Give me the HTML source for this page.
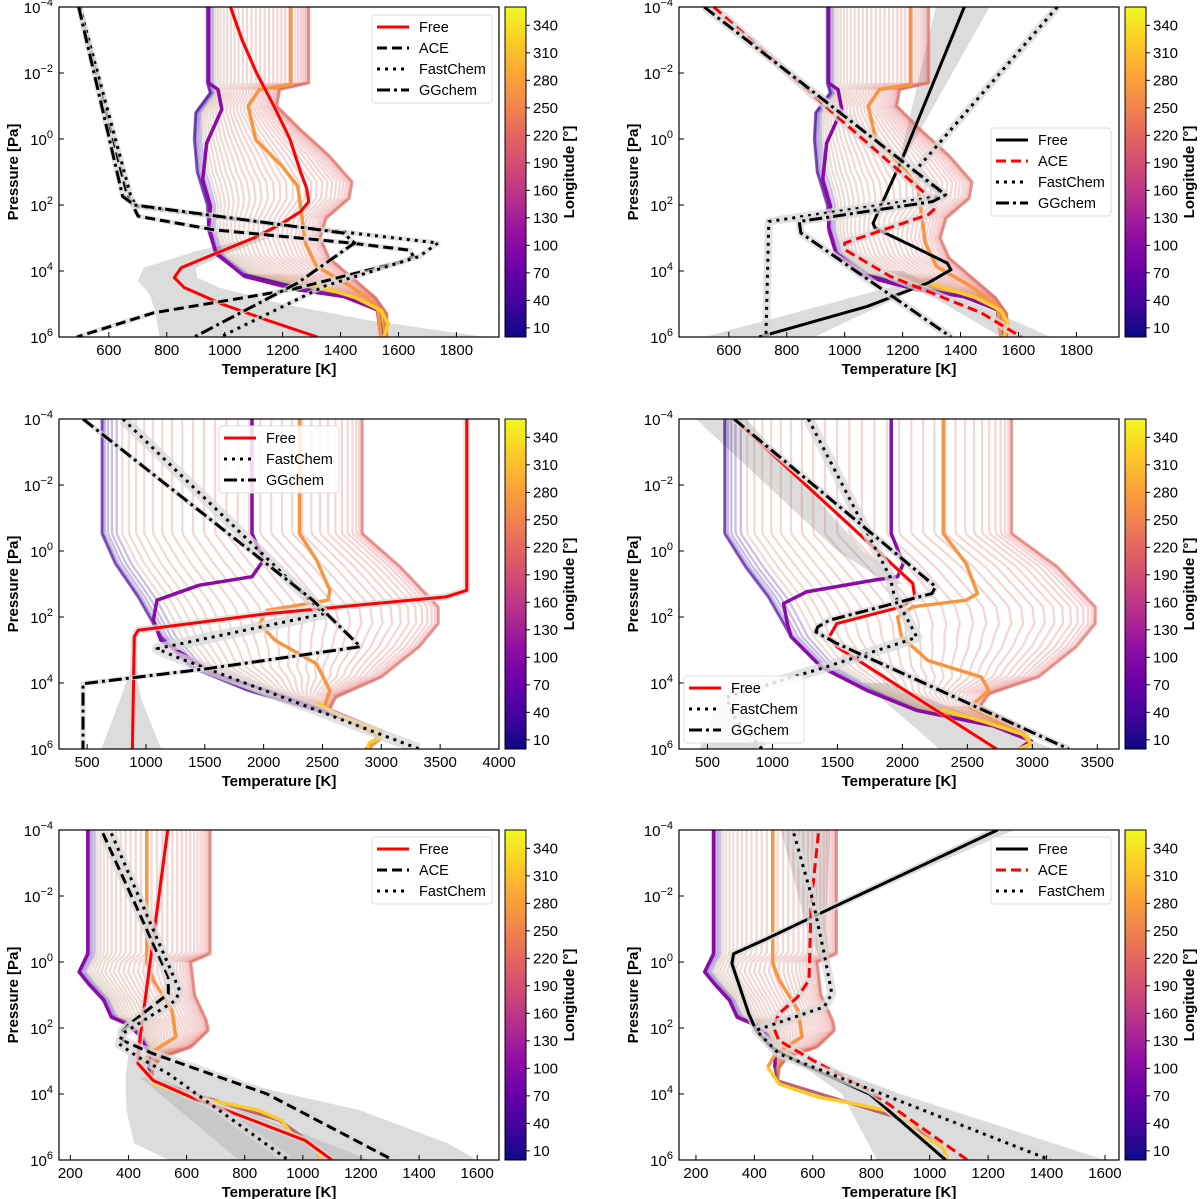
<!DOCTYPE html>
<html><head><meta charset="utf-8">
<style>
body{margin:0;background:#fff;}
svg{display:block;font-family:"Liberation Sans","DejaVu Sans",sans-serif;}
.tl{font-size:15px;fill:#000;}
.al{font-size:15px;font-weight:bold;fill:#000;}
.lg{font-size:14.5px;fill:#000;}
</style></head>
<body>
<svg id="fig" width="1200" height="1199" viewBox="0 0 1200 1199" xmlns="http://www.w3.org/2000/svg">
<defs>
<linearGradient id="plasma" x1="0" y1="1" x2="0" y2="0">
<stop offset="0" stop-color="#0d0887"/><stop offset="0.1" stop-color="#41049d"/><stop offset="0.2" stop-color="#6a00a8"/>
<stop offset="0.3" stop-color="#8f0da4"/><stop offset="0.4" stop-color="#b12a90"/><stop offset="0.5" stop-color="#cc4778"/>
<stop offset="0.6" stop-color="#e16462"/><stop offset="0.7" stop-color="#f2844b"/><stop offset="0.8" stop-color="#fca636"/>
<stop offset="0.9" stop-color="#fcce25"/><stop offset="1" stop-color="#f0f921"/>
</linearGradient>
</defs>
</svg>
<script>
// ===== data: profiles as [log10 P, T(K)] =====
const yTicks = [-4,-2,0,2,4,6];
const cbTicks = [10,40,70,100,130,160,190,220,250,280,310,340];
const xTicksA = [600,800,1000,1200,1400,1600,1800];
const xTicksB = [500,1000,1500,2000,2500,3000,3500,4000];
const xTicksC = [500,1000,1500,2000,2500,3000,3500];
const xTicksD = [200,400,600,800,1000,1200,1400,1600];

// panels 1 & 2 GCM profiles
const fanCoolA = [[-4,940],[-1.7,940],[-1.4,950],[-0.8,900],[0,895],[1,905],[2,940],[2.8,945],[3.5,970],[4.1,1060],[4.5,1250],[4.8,1420],[5.2,1530],[6,1545]];
const fanHotA = [[-4,1290],[-1.7,1290],[-1.5,1190],[-1,1180],[-0.3,1260],[0.5,1360],[1.3,1440],[1.8,1430],[2.4,1350],[3.0,1330],[3.6,1360],[4.2,1440],[4.8,1520],[5.3,1560],[6,1560]];
const purpleA = [[-4,944],[-1.7,944],[-1.5,977],[-0.9,990],[0.12,938],[1.23,924],[2.04,951],[2.65,944],[3.45,970],[4.16,1068],[4.57,1252],[4.77,1409],[5.17,1527],[6,1540]];
const orangeA = [[-4,1228],[-1.65,1228],[-1.5,1120],[-1.0,1081],[0.02,1107],[0.83,1199],[1.43,1252],[2.24,1265],[3.15,1278],[3.86,1317],[4.46,1435],[5.07,1527],[6,1540]];
const yellowA = [[4.4,1300],[4.8,1450],[5.2,1540],[5.6,1565],[6,1550]];
// panel 1 retrievals
const p1Free = [[-4,1020],[-3,1060],[-2,1110],[-1,1170],[0,1225],[1,1262],[1.5,1283],[1.9,1290],[2.2,1262],[2.6,1190],[3,1100],[3.5,960],[3.9,850],[4.2,826],[4.5,860],[5,990],[5.5,1150],[6,1320]];
const p1Ace = [[-4,498],[1.64,662],[2.34,701],[2.75,963],[3.15,1435],[3.37,1639],[3.56,1652],[3.7,1619],[4.57,1226],[5.27,754],[6,490]];
const p1Fast = [[-4,500],[1.7,675],[2.04,694],[2.55,1147],[3.15,1737],[3.56,1671],[4.46,1344],[6,985]];
const p1GG = [[-4,496],[1.74,648],[2.0,688],[2.85,1409],[3.15,1448],[4.36,1252],[6,895]];
const p1BandLo = [[3.0,1100],[3.4,900],[3.9,720],[4.3,700],[4.7,740],[5.2,760],[6,775]];
const p1BandHi = [[3.0,1150],[3.5,1000],[3.9,900],[4.2,905],[4.5,980],[5,1200],[5.5,1500],[6,1900]];
// panel 2 retrievals
const p2Free = [[-4,1413],[0.63,1197],[2.55,1098],[2.7,1105],[3.25,1236],[3.76,1354],[3.96,1367],[4.36,1288],[5.07,1079],[6,705]];
const p2Ace = [[-4,548],[-0.48,1000],[1.84,1302],[2.14,1308],[2.29,1289],[3.15,1000],[3.35,1000],[4.16,1157],[5.27,1472],[6,1610]];
const p2Fast = [[-4,1734],[1.0,1240],[1.72,1345],[2.5,738],[6,728]];
const p2GG = [[-4,515],[1.69,1348],[1.9,1302],[2.5,843],[2.85,849],[6,1367]];
const p2BandTopLo = [[-4,1315],[0.6,1190]];
const p2BandTopHi = [[-4,1500],[0.6,1205]];
const p2BandBotLo = [[4.2,1280],[6,515]];
const p2BandBotHi = [[4.2,1330],[6,895]];
const p2BandAceLo = [[4,1150],[6,1540]];
const p2BandAceHi = [[4,1200],[6,1710]];

// panel 3
const fanCoolB = [[-4,626],[-0.53,626],[0.38,739],[1.39,933],[2.6,1126],[3.52,1385],[4.23,1869],[4.83,2450],[5.44,2999],[5.7,2990],[6,2870]];
const fanHotB = [[-4,2838],[-0.53,2838],[0.48,3161],[1.69,3484],[2.2,3484],[2.9,3322],[3.82,2999],[4.43,2612],[4.8,2560],[5.44,2999],[6,2900]];
const purpleB = [[-4,1901],[-0.53,1901],[0.28,1998],[0.78,1901],[1.04,1449],[1.49,1094],[2.1,1062],[2.7,1126],[3.72,1578],[4.23,2030],[5.04,2676],[5.65,2999],[6,2870]];
const orangeB = [[-4,2305],[-0.53,2305],[0.28,2450],[1.19,2563],[1.49,2547],[1.8,2030],[2.2,1966],[2.7,2095],[3.42,2450],[4.23,2563],[4.73,2515],[5.04,2676],[5.65,2999],[6,2880]];
const yellowB = [[4.6,2450],[5.0,2650],[5.44,2990],[5.65,3000],[5.8,2900],[6,2880]];
const p3Free = [[-4,3726],[1.19,3726],[1.39,3548],[1.9,2030],[2.4,933],[2.6,901],[6,885]];
const p3Fast = [[-4,804],[1.9,2515],[2.96,1094],[3.21,1256],[6,3322]];
const p3GG = [[-4,465],[1.49,2418],[2.9,2822],[3.57,1514],[4.02,465],[6,465]];
const p3BandLo = [[2.6,890],[3.5,880],[4.5,780],[6,620]];
const p3BandHi = [[2.6,930],[3.5,900],[4.5,960],[6,1130]];

// panel 4
const fanCoolC = [[-4,632],[-0.53,632],[0.48,793],[1.39,968],[2.6,1144],[3.52,1378],[4.23,1729],[4.83,2110],[5.3,2700],[5.75,2988],[6,2900]];
const fanHotC = [[-4,2841],[-0.53,2841],[0.48,3193],[1.69,3485],[2.2,3485],[2.9,3339],[3.82,3046],[4.33,2666],[4.7,2600],[5.3,2900],[5.75,2988],[6,2900]];
const purpleC = [[-4,1914],[-0.53,1914],[0.38,2007],[0.78,1963],[0.88,1788],[1.24,1261],[1.59,1085],[2.2,1115],[2.6,1144],[3.52,1378],[4.23,1729],[4.83,2110],[5.3,2700],[5.75,2988],[6,2900]];
const orangeC = [[-4,2315],[-0.53,2315],[0.38,2490],[1.29,2578],[1.49,2490],[1.69,2080],[2.0,1963],[2.6,1993],[3.32,2197],[3.82,2607],[4.23,2666],[4.73,2519],[5.44,2900],[5.85,2988],[6,2900]];
const yellowC = [[4.8,2300],[5.2,2650],[5.6,2960],[5.85,2990],[6,2900]];
const p4Free = [[-4,705],[0.98,2080],[1.39,2095],[1.69,1992],[2.2,1495],[2.6,1437],[2.9,1495],[6,2724]];
const p4Fast = [[-4,1276],[0.78,1905],[1.29,1934],[2.6,2110],[2.7,2051],[3.52,1407],[4.43,646],[5.0,700],[6,920]];
const p4GG = [[-4,705],[1.08,2256],[1.29,2227],[2.1,1437],[2.3,1349],[2.45,1334],[2.8,1495],[6,3280]];
const p4BandTopLo = [[-4,412],[0,1500],[1,1900]];
const p4BandTopHi = [[-4,800],[0,1700],[1,2000]];
const p4BandBotLo = [[4,1700],[6,2285]];
const p4BandBotHi = [[4,1900],[6,3160]];
const p4BandLeftLo = [[4.4,600],[6,440]];
const p4BandLeftHi = [[4.4,700],[6,900]];

// panels 5 & 6
const fanCoolD = [[-4,260],[-0.25,260],[0.3,230],[0.66,263],[1.16,315],[1.67,341],[1.87,393],[2.17,433],[2.78,472],[3.2,470],[3.6,480],[4.2,700],[4.8,920],[5.6,1045],[6,1060]];
const fanHotD = [[-4,681],[-0.25,681],[0,615],[1,628],[1.77,668],[2.07,675],[2.58,615],[2.9,511],[3.2,485],[3.6,480],[4.2,700],[4.8,920],[5.6,1045],[6,1060]];
const purpleD = [[-4,260],[-0.25,260],[0.3,230],[0.66,263],[1.16,315],[1.67,341],[1.87,393],[2.17,433],[2.78,472],[3.2,470]];
const orangeD = [[-4,463],[0.05,463],[0.55,485],[1.47,550],[2.27,563],[2.78,472],[3.19,446]];
const yellowD = [[3.19,446],[3.7,485],[4.1,620],[4.3,746],[4.5,850],[4.81,929],[5.2,960],[5.62,1047],[6,1062]];
const p5Free = [[-4,535],[2.78,433],[3.08,433],[3.59,485],[4.1,616],[4.7,799],[5.41,1008],[6,1100]];
const p5Ace = [[-3.9,312],[0.45,537],[0.96,537],[1.77,420],[2.07,380],[2.38,380],[2.78,485],[4.0,877],[6,1310]];
const p5Fast = [[-3.9,341],[0.86,576],[1.16,563],[2.17,380],[2.48,367],[2.88,433],[3.39,538],[6,950]];
const p5BandLo = [[2.8,400],[3.5,390],[4.5,393],[5.5,420],[6,540]];
const p5BandHi = [[2.8,450],[3.5,700],[4.5,1200],[5.5,1500],[6,1600]];
const p5BandInLo = [[3.5,440],[6,780]];
const p5BandInHi = [[3.5,500],[6,1230]];
const p6Free = [[-4,1232],[-1.37,600],[-0.66,432],[-0.25,329],[0.05,323],[1.57,381],[2.07,406],[2.58,458],[3.08,561],[4.0,794],[6,1055]];
const p6Ace = [[-3.9,619],[-1.77,594],[0.55,587],[1.06,548],[1.57,484],[1.97,465],[2.38,484],[2.98,600],[3.9,794],[5.11,987],[6,1129]];
const p6Fast = [[-3.9,535],[-1.87,600],[-0.25,639],[0.96,665],[1.36,639],[2.07,406],[2.78,484],[4.3,923],[6,1413]];
const p6BandTopLo = [[-4,1200],[-1.4,590]];
const p6BandTopHi = [[-4,1290],[-1.4,610]];
const p6BandFastLo = [[-4,490],[-1,580],[0,630]];
const p6BandFastHi = [[-4,660],[-1,645],[0,660]];
const p6BandBotLo = [[3,540],[4,700],[6,820]];
const p6BandBotHi = [[3,600],[4,900],[6,1600]];

// ===== drawing =====
const NS = 'http://www.w3.org/2000/svg';
const svg = document.getElementById('fig');
function mk(tag, attrs, parent){
  const e = document.createElementNS(NS, tag);
  for (const k in attrs) e.setAttribute(k, attrs[k]);
  (parent||svg).appendChild(e);
  return e;
}
const plasmaStops = ['#0d0887','#41049d','#6a00a8','#8f0da4','#b12a90','#cc4778','#e16462','#f2844b','#fca636','#fcce25','#f0f921'];
function hex2rgb(h){return [parseInt(h.substr(1,2),16),parseInt(h.substr(3,2),16),parseInt(h.substr(5,2),16)];}
function plasma(t){
  t=Math.max(0,Math.min(1,t));const s=t*10;const i=Math.min(9,Math.floor(s));const f=s-i;
  const a=hex2rgb(plasmaStops[i]),b=hex2rgb(plasmaStops[i+1]);
  return 'rgb('+a.map((v,k)=>Math.round(v+(b[k]-v)*f)).join(',')+')';
}
function interp(prof, lp){
  if (lp<=prof[0][0]) return prof[0][1];
  for (let i=1;i<prof.length;i++){ if (lp<=prof[i][0]){const a=prof[i-1],b=prof[i];return a[1]+(b[1]-a[1])*(lp-a[0])/(b[0]-a[0]);} }
  return prof[prof.length-1][1];
}
const styles = { solid:'', dashed:'10,5', dotted:'3,5', dashdot:'13,4,3,4' };

function panel(cfg){
  const g = mk('g',{});
  
  
  const {x0,y0,w,h,xmin,xmax} = cfg;
  const X = T => x0 + (T-xmin)/(xmax-xmin)*w;
  const Y = lp => y0 + (lp+4)/10*h;
  const cid = 'clip-'+cfg.name;
  const cp = mk('clipPath',{id:cid},g); mk('rect',{x:x0,y:y0,width:w,height:h},cp);
  const plot = mk('g',{'clip-path':'url(#'+cid+')'},g);
  
  
  const pathOf = prof => prof.map((p,i)=>(i?'L':'M')+X(p[1]).toFixed(1)+','+Y(p[0]).toFixed(1)).join('');
  cfg.bands.forEach(b=>{
    const d = b.lo.map((p,i)=>(i?'L':'M')+X(p[1]).toFixed(1)+','+Y(p[0]).toFixed(1)).join('') +
      b.hi.slice().reverse().map(p=>'L'+X(p[1]).toFixed(1)+','+Y(p[0]).toFixed(1)).join('')+'Z';
    const e = mk('path',{d:d,fill:b.fill||'#dcdcdc',stroke:'none'},plot);
    
    
  });
  // fan of GCM profiles
  for (let lon=2.5; lon<360; lon+=5){
    const f = 0.5*(1+Math.cos((lon-210)*Math.PI/180));
    const pts=[];
    for (let lp=-4; lp<=6.001; lp+=0.1){
      const c=interp(cfg.cool,lp), hh=interp(cfg.hot,lp);
      pts.push([lp, c+(hh-c)*f]);
    }
    const e = mk('path',{d:pathOf(pts),fill:'none',stroke:plasma(lon/360),'stroke-width':2.2,'stroke-opacity':0.14},plot);
    
    
  }
  [[cfg.cool,plasma(0.12)],[cfg.hot,plasma(0.62)]].forEach(([p,c])=>{
    const e = mk('path',{d:pathOf(p),fill:'none',stroke:c,'stroke-width':3,'stroke-opacity':0.55},plot);
    
    
  });
  [[cfg.purple,'#8a0ba5','purple-highlight-profile'],[cfg.orange,'#f89540','orange-highlight-profile'],[cfg.yellow,'#fbcb2a','yellow-highlight-profile']].forEach(([p,c,n])=>{
    const e = mk('path',{d:pathOf(p),fill:'none',stroke:c,'stroke-width':3.5,'stroke-linejoin':'round'},plot);
    
    
  });
  cfg.lines.forEach(L=>{
    const halo = mk('path',{d:pathOf(L.data),fill:'none',stroke:'#d8d8d8','stroke-width':L.halo||6,'stroke-opacity':0.75,'stroke-linejoin':'round'},plot);
    
    
    const e = mk('path',{d:pathOf(L.data),fill:'none',stroke:L.color,'stroke-width':3,'stroke-dasharray':styles[L.style],'stroke-linejoin':'round'},plot);
    
    
  });
  const fr = mk('rect',{x:x0,y:y0,width:w,height:h,fill:'none',stroke:'#000','stroke-width':1.2},g);
  
  
  cfg.xticks.forEach(t=>{
    const x=X(t);
    mk('line',{x1:x,x2:x,y1:y0+h,y2:y0+h-5,stroke:'#000','stroke-width':1},g);
    const tx = mk('text',{x:x,y:y0+h+18,'text-anchor':'middle',class:'tl'},g);
    tx.textContent=t;
    
    
  });
  yTicks.forEach(t=>{
    const y=Y(t);
    mk('line',{x1:x0,x2:x0+5,y1:y,y2:y,stroke:'#000','stroke-width':1},g);
    const tx = mk('text',{x:x0-6,y:y+6,'text-anchor':'end',class:'tl'},g);
    
    
    const a=mk('tspan',{},tx); a.textContent='10';
    const b=mk('tspan',{dy:-7,'font-size':'11px'},tx); b.textContent=(t<0?'\u2212':'')+Math.abs(t);
  });
  const xl = mk('text',{x:x0+w/2,y:y0+h+37,'text-anchor':'middle',class:'al'},g);
  xl.textContent='Temperature [K]';
  
  
  const yl = mk('text',{x:0,y:0,'text-anchor':'middle',class:'al',transform:'translate('+(x0-41)+','+(y0+h/2)+') rotate(-90)'},g);
  yl.textContent='Pressure [Pa]';
  
  
  const cbx = x0+w+6;
  const cb = mk('rect',{x:cbx,y:y0,width:21,height:h,fill:'url(#plasma)',stroke:'#000','stroke-width':1},g);
  
  
  cbTicks.forEach(t=>{
    const y = y0+h - t/360*h;
    mk('line',{x1:cbx+21,x2:cbx+25,y1:y,y2:y,stroke:'#000','stroke-width':1},g);
    const tx = mk('text',{x:cbx+28,y:y+5,class:'tl'},g);
    tx.textContent=t;
    
    
  });
  const cl = mk('text',{x:0,y:0,'text-anchor':'middle',class:'al',transform:'translate('+(cbx+69)+','+(y0+h/2)+') rotate(-90)'},g);
  cl.textContent='Longitude [°]';
  
  
  const lg = mk('g',{},g);
  
  
  const n = cfg.lines.length;
  mk('rect',{x:cfg.lx,y:cfg.ly,width:120,height:n*21+4,rx:3,fill:'#fff','fill-opacity':0.85,stroke:'#ddd','stroke-width':1},lg);
  cfg.lines.forEach((L,i)=>{
    const yy = cfg.ly+12+i*21;
    const s = mk('line',{x1:cfg.lx+5,x2:cfg.lx+37,y1:yy,y2:yy,stroke:L.color,'stroke-width':3,'stroke-dasharray':styles[L.style]},lg);
    
    
    const t = mk('text',{x:cfg.lx+47,y:yy+5,class:'lg'},lg);
    t.textContent=L.label;
    
    
  });
}

const L=59, R=679, T1=7, T2=419, T3=830, W=440, H=330;
panel({name:'panel-top-left',x0:L,y0:T1,w:W,h:H,xmin:428,xmax:1947,xticks:xTicksA,
  cool:fanCoolA,hot:fanHotA,purple:purpleA,orange:orangeA,yellow:yellowA,
  bands:[{lo:p1BandLo,hi:p1BandHi}],
  lines:[{label:'Free',data:p1Free,color:'#ff0000',style:'solid',halo:4},
         {label:'ACE',data:p1Ace,color:'#000',style:'dashed',halo:5},
         {label:'FastChem',data:p1Fast,color:'#000',style:'dotted',halo:5},
         {label:'GGchem',data:p1GG,color:'#000',style:'dashdot',halo:5}],
  lx:372,ly:15});
panel({name:'panel-top-right',x0:R,y0:T1,w:W,h:H,xmin:428,xmax:1947,xticks:xTicksA,
  cool:fanCoolA,hot:fanHotA,purple:purpleA,orange:orangeA,yellow:yellowA,
  bands:[{lo:p2BandTopLo,hi:p2BandTopHi},{lo:p2BandBotLo,hi:p2BandBotHi},{lo:p2BandAceLo,hi:p2BandAceHi}],
  lines:[{label:'Free',data:p2Free,color:'#000',style:'solid',halo:4},
         {label:'ACE',data:p2Ace,color:'#ff0000',style:'dashed',halo:8},
         {label:'FastChem',data:p2Fast,color:'#000',style:'dotted',halo:8},
         {label:'GGchem',data:p2GG,color:'#000',style:'dashdot',halo:8}],
  lx:991,ly:128});
panel({name:'panel-middle-left',x0:L,y0:T2,w:W,h:H,xmin:261,xmax:4000,xticks:xTicksB,
  cool:fanCoolB,hot:fanHotB,purple:purpleB,orange:orangeB,yellow:yellowB,
  bands:[{lo:p3BandLo,hi:p3BandHi}],
  lines:[{label:'Free',data:p3Free,color:'#ff0000',style:'solid',halo:7},
         {label:'FastChem',data:p3Fast,color:'#000',style:'dotted',halo:11},
         {label:'GGchem',data:p3GG,color:'#000',style:'dashdot',halo:5}],
  lx:219,ly:426});
panel({name:'panel-middle-right',x0:R,y0:T2,w:W,h:H,xmin:281,xmax:3667,xticks:xTicksC,
  cool:fanCoolC,hot:fanHotC,purple:purpleC,orange:orangeC,yellow:yellowC,
  bands:[{lo:p4BandTopLo,hi:p4BandTopHi},{lo:p4BandBotLo,hi:p4BandBotHi},{lo:p4BandLeftLo,hi:p4BandLeftHi}],
  lines:[{label:'Free',data:p4Free,color:'#ff0000',style:'solid',halo:4},
         {label:'FastChem',data:p4Fast,color:'#000',style:'dotted',halo:11},
         {label:'GGchem',data:p4GG,color:'#000',style:'dashdot',halo:7}],
  lx:684,ly:676});
panel({name:'panel-bottom-left',x0:L,y0:T3,w:W,h:H,xmin:161,xmax:1675,xticks:xTicksD,
  cool:fanCoolD,hot:fanHotD,purple:purpleD,orange:orangeD,yellow:yellowD,
  bands:[{lo:p5BandLo,hi:p5BandHi},{lo:p5BandInLo,hi:p5BandInHi,fill:'#c8c8c8'}],
  lines:[{label:'Free',data:p5Free,color:'#ff0000',style:'solid',halo:7},
         {label:'ACE',data:p5Ace,color:'#000',style:'dashed',halo:9},
         {label:'FastChem',data:p5Fast,color:'#000',style:'dotted',halo:9}],
  lx:372,ly:837});
panel({name:'panel-bottom-right',x0:R,y0:T3,w:W,h:H,xmin:142,xmax:1648,xticks:xTicksD,
  cool:fanCoolD,hot:fanHotD,purple:purpleD,orange:orangeD,yellow:yellowD,
  bands:[{lo:p6BandTopLo,hi:p6BandTopHi},{lo:p6BandFastLo,hi:p6BandFastHi},{lo:p6BandBotLo,hi:p6BandBotHi}],
  lines:[{label:'Free',data:p6Free,color:'#000',style:'solid',halo:7},
         {label:'ACE',data:p6Ace,color:'#ff0000',style:'dashed',halo:7},
         {label:'FastChem',data:p6Fast,color:'#000',style:'dotted',halo:9}],
  lx:991,ly:837});
</script>
</body></html>
